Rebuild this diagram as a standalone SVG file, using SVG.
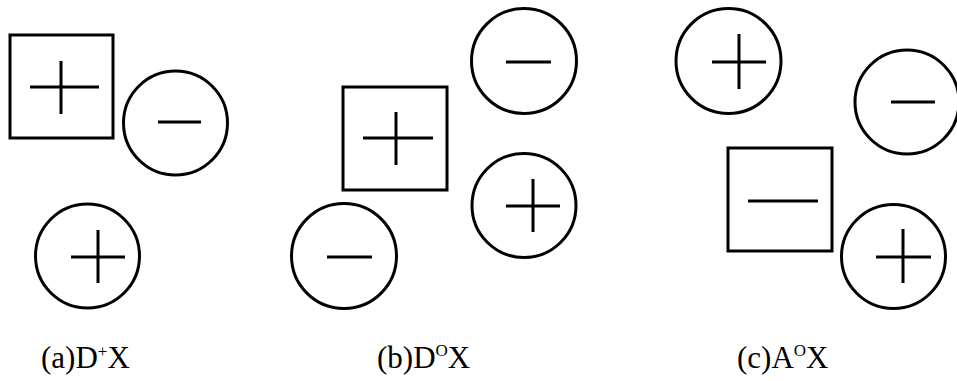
<svg xmlns="http://www.w3.org/2000/svg" width="957" height="381" viewBox="0 0 957 381">
<style>
.s{fill:none;stroke:#000;stroke-width:3}
.t{font-family:"Liberation Serif","Times New Roman",serif;font-size:31px;fill:#000}
.sup{font-size:17px}
</style>
<rect width="957" height="381" fill="#fff"/>
<g id="a-square-plus"><rect class="s" x="10" y="35" width="103" height="103"/><path class="s" d="M30 87H99M61 61V114"/></g>
<g id="a-circle-minus"><circle class="s" cx="175.5" cy="123" r="52"/><path class="s" d="M158 122H201"/></g>
<g id="a-circle-plus"><circle class="s" cx="87.5" cy="256" r="52"/><path class="s" d="M71 257H125M98 230V283"/></g>
<g id="b-circle-minus-top"><circle class="s" cx="524" cy="61" r="52.5"/><path class="s" d="M506 62H551"/></g>
<g id="b-square-plus"><rect class="s" x="343" y="87" width="104" height="103"/><path class="s" d="M363 138H433M396 112V165"/></g>
<g id="b-circle-plus"><circle class="s" cx="524" cy="205.5" r="52"/><path class="s" d="M506 206H560M533 179V232"/></g>
<g id="b-circle-minus-bottom"><circle class="s" cx="344" cy="256" r="52.5"/><path class="s" d="M327 257H372"/></g>
<g id="c-circle-plus-top"><circle class="s" cx="728.5" cy="61" r="52.5"/><path class="s" d="M712 62H766M739 34V89"/></g>
<g id="c-circle-minus"><circle class="s" cx="907" cy="102" r="52"/><path class="s" d="M891 102H935"/></g>
<g id="c-square-minus"><rect class="s" x="728" y="148" width="104" height="103"/><path class="s" d="M748 201H818"/></g>
<g id="c-circle-plus-bottom"><circle class="s" cx="893.5" cy="256.5" r="52"/><path class="s" d="M876 257H931M903 229V283"/></g>
<g id="connectors"/>
<g id="labels">
<text class="t" x="41" y="368">(a)D<tspan class="sup" dy="-11">+</tspan><tspan dy="11">X</tspan></text>
<text class="t" x="377" y="368">(b)D<tspan class="sup" dy="-12">O</tspan><tspan dy="12">X</tspan></text>
<text class="t" x="737" y="368">(c)A<tspan class="sup" dy="-12">O</tspan><tspan dy="12">X</tspan></text>
</g>
</svg>
